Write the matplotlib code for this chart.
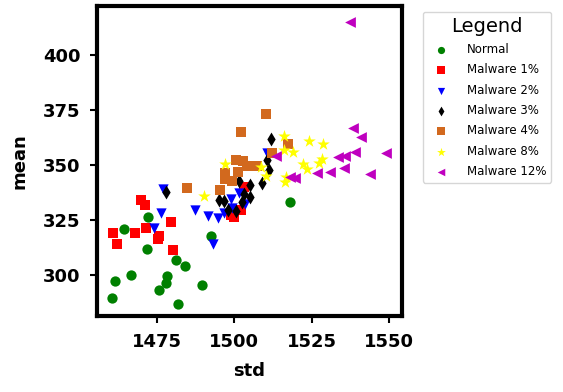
import matplotlib
matplotlib.use("Agg")
import matplotlib.pyplot as plt

normal_std = [1518.1, 1472.2, 1464.3, 1492.3, 1471.9, 1481.0, 1483.9, 1461.5, 1466.7, 1478.2, 1477.9, 1475.5, 1489.4, 1460.6, 1481.9]
normal_mean = [333.3, 326.2, 320.8, 317.9, 312.0, 306.7, 303.9, 297.4, 300.2, 299.8, 296.5, 293.0, 295.5, 289.4, 287.0]

m1_std = [1469.8, 1471.2, 1460.9, 1462.0, 1467.9, 1471.6, 1479.5, 1475.4, 1475.8, 1480.2, 1499.9, 1499.0, 1502.0, 1503.0, 1499.8]
m1_mean = [334.1, 332.0, 319.1, 314.2, 318.9, 321.2, 324.2, 316.5, 317.6, 311.2, 326.8, 327.5, 329.5, 340.0, 326.4]

m2_std = [1476.8, 1476.2, 1474.1, 1487.3, 1491.4, 1494.7, 1493.0, 1498.8, 1496.7, 1501.6, 1503.6, 1510.6, 1499.4]
m2_mean = [339.1, 328.3, 321.5, 329.8, 326.8, 325.8, 313.9, 334.8, 328.3, 337.4, 332.3, 355.6, 330.3]

m3_std = [1478.0, 1511.9, 1510.6, 1511.2, 1508.8, 1501.6, 1505.1, 1505.1, 1503.2, 1495.1, 1496.7, 1497.9, 1500.6, 1502.6]
m3_mean = [337.9, 361.7, 352.3, 347.7, 342.0, 342.7, 340.9, 335.6, 336.7, 334.1, 333.8, 329.5, 329.2, 333.3]

m4_std = [1510.1, 1502.0, 1517.4, 1484.7, 1495.3, 1500.4, 1502.9, 1504.2, 1501.3, 1497.0, 1497.0, 1499.1, 1507.2, 1512.2]
m4_mean = [373.2, 365.0, 359.5, 339.4, 338.6, 352.3, 351.8, 349.7, 347.0, 346.2, 343.5, 342.7, 349.5, 355.3]

m8_std = [1490.2, 1497.0, 1508.5, 1510.3, 1516.0, 1516.2, 1519.0, 1524.0, 1528.5, 1522.1, 1523.6, 1527.3, 1528.2, 1516.7, 1516.5]
m8_mean = [335.9, 350.3, 349.2, 345.2, 363.2, 356.8, 356.1, 360.9, 359.5, 350.5, 348.0, 351.1, 352.7, 344.7, 342.1]

m12_std = [1537.4, 1538.5, 1541.0, 1548.9, 1539.1, 1535.8, 1533.5, 1535.3, 1526.7, 1530.8, 1543.9, 1513.6, 1518.1, 1519.7]
m12_mean = [415.2, 366.7, 362.6, 355.6, 356.1, 354.1, 353.5, 348.5, 346.2, 346.7, 345.9, 354.1, 344.7, 344.2]

labels = ["Normal", "Malware 1%", "Malware 2%", "Malware 3%", "Malware 4%", "Malware 8%", "Malware 12%"]
xticks = [1475, 1500, 1525, 1550]
yticks = [300, 325, 350, 375, 400]

series = [
    (normal_std, normal_mean, "green", "o", 55),
    (m1_std, m1_mean, "red", "s", 55),
    (m2_std, m2_mean, "blue", "v", 55),
    (m3_std, m3_mean, "black", "d", 50),
    (m4_std, m4_mean, "chocolate", "s", 55),
    (m8_std, m8_mean, "yellow", "*", 90),
    (m12_std, m12_mean, "m", "<", 60),
]

fig = plt.figure(figsize=(5.63, 3.92), dpi=100)
ax = fig.add_axes([97/563, 1-316/392, 305/563, 310/392])

for (xs, ys, c, mk, s), lab in zip(series, labels):
    ax.scatter(xs, ys, c=c, marker=mk, s=s, linewidths=0, label=lab)

ax.set_xlim(1455.6, 1554.2)
ax.set_ylim(281.4, 422.3)
ax.set_xticks(xticks)
ax.set_yticks(yticks)
for sp in ax.spines.values():
    sp.set_linewidth(3)
ax.tick_params(width=1.5, length=5, labelsize=13, pad=7)
for t in ax.get_xticklabels() + ax.get_yticklabels():
    t.set_fontweight("bold")
ax.set_xlabel("std", fontsize=13, fontweight="bold", labelpad=8)
ax.set_ylabel("mean", fontsize=13, fontweight="bold", labelpad=10)

leg = ax.legend(title="Legend", loc="upper left", bbox_to_anchor=(423/563, 1-12/392),
                bbox_transform=fig.transFigure, borderaxespad=0, fontsize=8.5,
                title_fontsize=14, scatterpoints=1, markerscale=0.7, fancybox=True,
                labelspacing=0.62, handlelength=2.2, handletextpad=1.1)

fig.savefig("out.png", dpi=100)
